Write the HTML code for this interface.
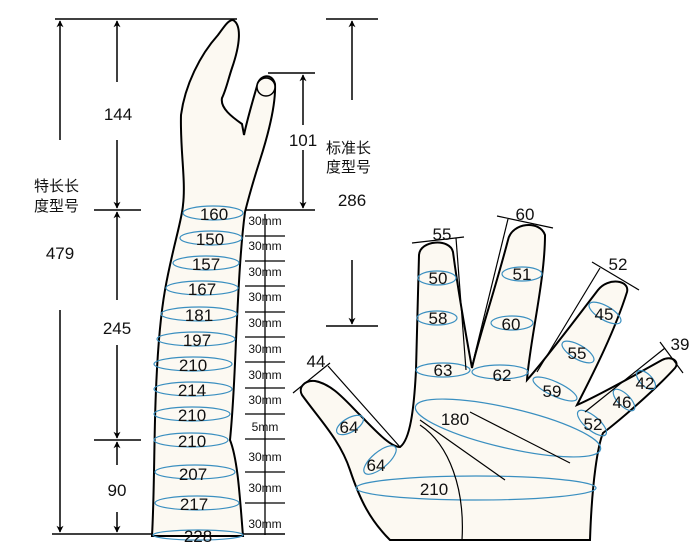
<!DOCTYPE html>
<html><head><meta charset="utf-8"><style>
body{margin:0;background:#fff}
svg{display:block}
text{font-family:"Liberation Sans","Noto Sans CJK SC",sans-serif;fill:#111}
</style></head><body>
<svg width="700" height="560" viewBox="0 0 700 560" xmlns="http://www.w3.org/2000/svg">
<defs>
<marker id="a" viewBox="0 0 10 10" refX="9" refY="5" markerWidth="7" markerHeight="9" orient="auto-start-reverse" markerUnits="userSpaceOnUse"><path d="M0,0 L10,5 L0,10 L3,5z" fill="#000"/></marker>
</defs>
<g stroke="#000" stroke-width="1.5" fill="none">
<line x1="55" y1="19" x2="237" y2="19"/>
<line x1="60" y1="140" x2="60" y2="21" marker-end="url(#a)"/>
<line x1="60" y1="310" x2="60" y2="532" marker-end="url(#a)"/>
<line x1="117" y1="82" x2="117" y2="21" marker-end="url(#a)"/>
<line x1="117" y1="140" x2="117" y2="208" marker-end="url(#a)"/>
<line x1="94" y1="210" x2="141" y2="210"/>
<line x1="117" y1="300" x2="117" y2="212" marker-end="url(#a)"/>
<line x1="117" y1="345" x2="117" y2="438" marker-end="url(#a)"/>
<line x1="94" y1="440" x2="141" y2="440"/>
<line x1="117" y1="465" x2="117" y2="442" marker-end="url(#a)"/>
<line x1="117" y1="512" x2="117" y2="532" marker-end="url(#a)"/>
<line x1="52" y1="534" x2="285" y2="534"/>
<line x1="326" y1="19" x2="378" y2="19"/>
<line x1="352" y1="100" x2="352" y2="21" marker-end="url(#a)"/>
<line x1="352" y1="260" x2="352" y2="324" marker-end="url(#a)"/>
<line x1="326" y1="326" x2="378" y2="326"/>
<line x1="268" y1="73" x2="315" y2="73"/>
<line x1="303" y1="125" x2="303" y2="75" marker-end="url(#a)"/>
<line x1="303" y1="150" x2="303" y2="208" marker-end="url(#a)"/>
<line x1="245" y1="210" x2="315" y2="210"/>
</g>
<g font-size="17" text-anchor="middle">
<text x="118" y="120">144</text><text x="117" y="334">245</text><text x="117" y="496">90</text>
<text x="60" y="259">479</text><text x="303" y="146">101</text><text x="352" y="206">286</text>
</g>
<g font-size="15">
<text x="34" y="191">特长长</text><text x="34" y="211">度型号</text>
<text x="326" y="153">标准长</text><text x="326" y="172">度型号</text>
</g>
<!-- arm -->
<path d="M233,20 C242,25 240,45 232,68 C228,80 226,90 222,98 C220,108 232,117 242,124 L244,135 C247,120 253,100 257,86 C259,75 272,72 275,84 C276,105 268,135 260,160 C252,185 248,200 245,212 C240,250 238,300 236,340 C234,390 232,420 230,440 C238,460 240,500 243,536 L152,536 C154,500 154,460 155,420 C156,380 158,330 165,290 C172,250 182,220 183,205 C186,180 180,150 181,115 C185,85 200,55 218,35 C224,27 228,20 233,20Z" fill="#fcf9f2" stroke="#000" stroke-width="2"/>
<circle cx="266" cy="87" r="9" fill="#fcf9f2" stroke="#000" stroke-width="1.5"/>
<g stroke="#3a8fc0" stroke-width="1.2" fill="none">
<ellipse cx="213" cy="213" rx="30" ry="7"/><ellipse cx="211" cy="238" rx="31" ry="7"/><ellipse cx="206" cy="263" rx="33" ry="7"/><ellipse cx="202" cy="288" rx="36" ry="7"/><ellipse cx="199" cy="314" rx="38" ry="7"/><ellipse cx="196" cy="339" rx="39" ry="7"/><ellipse cx="193" cy="364" rx="39" ry="7"/><ellipse cx="193" cy="389" rx="39" ry="7"/><ellipse cx="192" cy="414" rx="38" ry="7"/><ellipse cx="191" cy="440" rx="37" ry="7"/><ellipse cx="195" cy="472" rx="40" ry="7"/><ellipse cx="197" cy="503" rx="42" ry="7"/><ellipse cx="198" cy="535" rx="45" ry="5"/>
</g>
<g font-size="17" text-anchor="middle">
<text x="214" y="220">160</text><text x="210" y="245">150</text><text x="206" y="270">157</text><text x="202" y="295">167</text><text x="199" y="321">181</text><text x="197" y="346">197</text><text x="193" y="371">210</text><text x="192" y="396">214</text><text x="192" y="421">210</text><text x="192" y="447">210</text><text x="193" y="480">207</text><text x="194" y="510">217</text><text x="198" y="542">228</text>
</g>
<g stroke="#000" stroke-width="1.3">
<line x1="265" y1="214" x2="265" y2="535"/>
<line x1="245" y1="236" x2="285" y2="236"/><line x1="245" y1="261" x2="285" y2="261"/><line x1="245" y1="286" x2="285" y2="286"/><line x1="245" y1="312" x2="285" y2="312"/><line x1="245" y1="337" x2="285" y2="337"/><line x1="245" y1="362" x2="285" y2="362"/><line x1="245" y1="388" x2="285" y2="388"/><line x1="245" y1="414" x2="285" y2="414"/><line x1="245" y1="439" x2="285" y2="439"/><line x1="245" y1="472" x2="285" y2="472"/><line x1="245" y1="503" x2="285" y2="503"/>
</g>
<g font-size="12" text-anchor="middle">
<text x="265" y="225">30mm</text><text x="265" y="250">30mm</text><text x="265" y="276">30mm</text><text x="265" y="301">30mm</text><text x="265" y="327">30mm</text><text x="265" y="353">30mm</text><text x="265" y="379">30mm</text><text x="265" y="404">30mm</text><text x="265" y="431">5mm</text><text x="265" y="461">30mm</text><text x="265" y="492">30mm</text><text x="265" y="528">30mm</text>
</g>
<!-- hand -->
<path d="M390,540 C370,520 360,500 350,470 C340,440 320,420 302,395 C298,388 304,380 315,381 C332,384 345,400 360,415 C375,430 390,447 400,447 C410,440 414,410 416,370 C417,330 418,290 419,255 C420,240 450,238 453,252 C458,290 465,330 472,368 C478,340 495,290 508,240 C512,222 540,220 545,235 C545,280 530,340 527,380 C545,360 575,320 598,290 C608,277 630,280 627,292 C615,330 595,370 577,405 C600,395 635,375 662,360 C672,355 680,362 675,368 C655,390 620,420 603,433 C598,445 592,480 590,540Z" fill="#fcf9f2" stroke="#000" stroke-width="2"/>
<g stroke="#3a8fc0" stroke-width="1.2" fill="none">
<ellipse cx="437" cy="278" rx="19" ry="7"/><ellipse cx="437" cy="318" rx="20" ry="7"/><ellipse cx="443" cy="370" rx="27" ry="7"/><ellipse cx="500" cy="372" rx="28" ry="7"/>
<ellipse cx="522" cy="274" rx="20" ry="7"/><ellipse cx="512" cy="323" rx="21" ry="7"/>
<ellipse cx="605" cy="313" rx="18" ry="7" transform="rotate(30 605 313)"/><ellipse cx="578" cy="352" rx="18" ry="7" transform="rotate(30 578 352)"/><ellipse cx="555" cy="389" rx="24" ry="7" transform="rotate(25 555 389)"/>
<ellipse cx="646" cy="380" rx="12" ry="6" transform="rotate(45 646 380)"/><ellipse cx="624" cy="400" rx="14" ry="6" transform="rotate(45 624 400)"/><ellipse cx="592" cy="423" rx="18" ry="7" transform="rotate(40 592 423)"/>
<ellipse cx="508" cy="428" rx="95" ry="20" transform="rotate(13 508 428)"/>
<ellipse cx="476" cy="488" rx="120" ry="12"/>
<ellipse cx="350" cy="425" rx="15" ry="7" transform="rotate(-30 350 425)"/><ellipse cx="380" cy="460" rx="20" ry="8" transform="rotate(-40 380 460)"/>
</g>
<g stroke="#000" stroke-width="1.2" fill="none">
<path d="M470,412 L570,463"/><path d="M420,420 L505,480"/><path d="M420,425 C450,445 465,490 462,540"/>
<line x1="412" y1="243" x2="464" y2="237"/><line x1="456" y1="238" x2="466" y2="370"/>
<line x1="497" y1="216" x2="553" y2="228"/><line x1="508" y1="219" x2="472" y2="366"/>
<line x1="592" y1="262" x2="639" y2="290"/><line x1="600" y1="268" x2="537" y2="372"/>
<line x1="660" y1="342" x2="683" y2="373"/><line x1="665" y1="348" x2="585" y2="412"/>
<line x1="293" y1="393" x2="330" y2="363"/><line x1="328" y1="366" x2="400" y2="447"/>
</g>
<g font-size="17" text-anchor="middle">
<text x="442" y="240">55</text><text x="525" y="220">60</text><text x="618" y="270">52</text><text x="680" y="350">39</text><text x="316" y="367">44</text>
<text x="438" y="284">50</text><text x="438" y="324">58</text><text x="443" y="376">63</text><text x="502" y="381">62</text>
<text x="522" y="280">51</text><text x="511" y="330">60</text>
<text x="604" y="320">45</text><text x="577" y="359">55</text><text x="552" y="397">59</text>
<text x="645" y="389">42</text><text x="622" y="408">46</text><text x="593" y="430">52</text>
<text x="455" y="425">180</text><text x="434" y="495">210</text><text x="349" y="433">64</text><text x="376" y="471">64</text>
</g>
</svg>
</body></html>
